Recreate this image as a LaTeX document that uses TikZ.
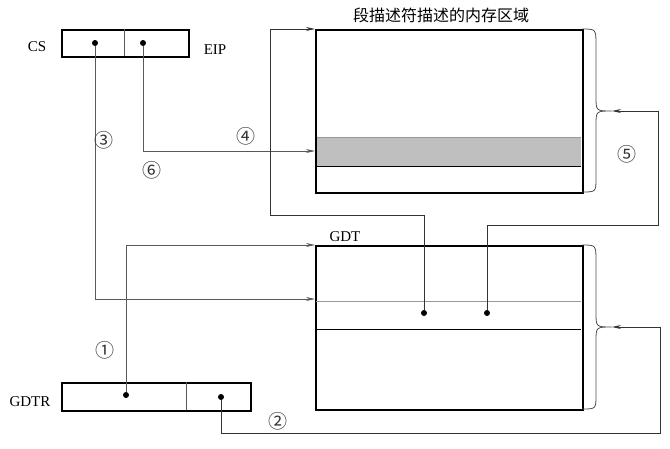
\documentclass[tikz,border=0pt]{standalone}
\usepackage{fontspec}
\setmainfont{Liberation Serif}
\newfontfamily\cjk{Noto Sans CJK SC}
\usetikzlibrary{arrows.meta}
\tikzset{
  boxx/.style={draw, line width=1.6pt, inner sep=0pt, anchor=north west},
  conn/.style={draw=black!65, line width=0.8pt},
  arr/.style={conn, -{Stealth[length=9pt,width=4pt]}},
  dotx/.style={circle, fill=black, inner sep=0pt, minimum size=6pt},
  lab/.style={font=\fontsize{15}{15}\selectfont, inner sep=0pt},
  num/.style={font=\cjk\fontsize{19}{19}\selectfont, inner sep=0pt, text=black!80},
  brace/.style={draw=black!70, line width=0.8pt}
}
\begin{document}
\begin{tikzpicture}[x=1pt,y=-1pt]
\useasboundingbox (0,0) rectangle (670,448);
% CS/EIP register
\node[boxx, minimum width=127pt, minimum height=27pt] (cs) at (61,29) {};
\draw[conn] (124,29) -- (124,56);
\node[dotx] (d3) at (95,43) {};
\node[dotx] (d6) at (143,43) {};
\node[lab] (cslab) at (37,47) {CS};
\node[lab] (eiplab) at (215,50) {EIP};
% memory region
\node[boxx, minimum width=267pt, minimum height=163pt] (mem) at (315,29) {};
\fill[black!25] (316,137) rectangle (581,166);
\draw[conn, draw=black!40] (316,137) -- (581,137);
\draw[line width=1pt] (316,166) -- (581,166);
\node[boxx, minimum width=267pt, minimum height=163pt] at (315,29) {};
\node[font=\cjk\fontsize{16}{16}\selectfont, inner sep=0pt] (title) at (441,15) {段描述符描述的内存区域};
% GDT
\node[boxx, minimum width=267pt, minimum height=164pt] (gdt) at (315,245) {};
\draw[conn, draw=black!40] (316,301) -- (581,301);
\draw[line width=1pt] (316,329) -- (581,329);
\node[lab] (gdtlab) at (345,237) {GDT};
\node[dotx] (d4) at (424,313) {};
\node[dotx] (d5) at (487,313) {};
% GDTR
\node[boxx, minimum width=189pt, minimum height=28pt] (gdtr) at (61,382) {};
\draw[conn] (186,382) -- (186,410);
\node[dotx] (d1) at (126,395) {};
\node[dotx] (d2) at (221,397) {};
\node[lab] (gdtrlab) at (30,402) {GDTR};
% braces
\coordinate (b1) at (612,111);
\coordinate (b2) at (612,327);
\draw[brace] (582,29) .. controls (596,29) .. (596,45) -- (596,97) .. controls (596,111) .. (b1)
  .. controls (596,111) .. (596,125) -- (596,178) .. controls (596,192) .. (582,192);
\draw[brace] (582,245) .. controls (596,245) .. (596,261) -- (596,313) .. controls (596,327) .. (b2)
  .. controls (596,327) .. (596,341) -- (596,395) .. controls (596,409) .. (582,409);
% targets
\coordinate (t4) at (315,29);
\coordinate (t6) at (315,151);
\coordinate (t3) at (315,299);
\coordinate (t1) at (315,245);
% connectors
\draw[arr] (d3) |- (t3);
\draw[arr] (d6) |- (t6);
\draw[arr] (d1) |- (t1);
\draw[arr, draw=black!80] (d4) -- (424,215) -- (270,215) -- (270,29) -- (t4);
\draw[arr, draw=black!80] (d5) -- (487,225) -- (658,225) -- (658,111) -- (b1);
\draw[arr, draw=black!80] (d2) -- (221,433) -- (660,433) -- (660,327) -- (b2);
% numbers
\node[num] (n1) at (105,350) {①};
\node[num] (n2) at (278,421) {②};
\node[num] (n3) at (104,140) {③};
\node[num] (n4) at (246,136) {④};
\node[num] (n5) at (627,154) {⑤};
\node[num] (n6) at (152,170) {⑥};
\end{tikzpicture}
\end{document}
